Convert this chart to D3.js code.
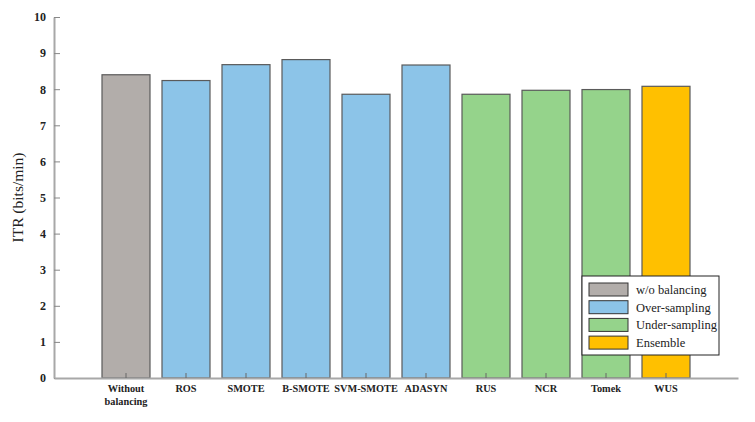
<!DOCTYPE html>
<html lang="en">
<head>
    <meta charset="UTF-8">
    <title>ITR by balancing method</title>
    <script src="https://d3js.org/d3.v7.min.js"></script>
    <style>
        body, html {
            margin: 0;
            padding: 0;
            background-color: #fff;
        }
        svg {
            display: block;
        }
        .tick text {
            font-family: 'Liberation Serif', 'DejaVu Serif', serif;
        }
    </style>
</head>
<body>
    <svg width="755" height="422"></svg>

    <script>
        // chart data
        const methods = ['Without balancing', 'ROS', 'SMOTE', 'B-SMOTE', 'SVM-SMOTE', 'ADASYN', 'RUS', 'NCR', 'Tomek', 'WUS'];
        const itrValues = [8.40, 8.24, 8.68, 8.82, 7.86, 8.67, 7.86, 7.97, 7.99, 8.08];
        const groups = ['w/o balancing', 'Over-sampling', 'Over-sampling', 'Over-sampling', 'Over-sampling', 'Over-sampling',
                        'Under-sampling', 'Under-sampling', 'Under-sampling', 'Ensemble'];
        const legendLabels = ['w/o balancing', 'Over-sampling', 'Under-sampling', 'Ensemble'];
        const groupColors = ['#b2adaa', '#8cc4e8', '#95d38b', '#ffc000'];
        const yTicks = [0, 1, 2, 3, 4, 5, 6, 7, 8, 9, 10];

        const serif = "'Liberation Serif', 'DejaVu Serif', serif";
        const svg = d3.select('svg');
        const margin = {left: 54, right: 17, top: 17, bottom: 44};
        const width = +svg.attr('width');
        const height = +svg.attr('height');

        const x = d3.scaleBand()
            .domain(methods)
            .range([margin.left, width - margin.right])
            .paddingInner(0.2)
            .paddingOuter(0.8);

        const y = d3.scaleLinear()
            .domain([0, 10])
            .range([height - margin.bottom, margin.top]);

        const color = d3.scaleOrdinal()
            .domain(legendLabels)
            .range(groupColors);

        const data = methods.map((m, i) => ({method: m, value: itrValues[i], group: groups[i]}));

        // bars
        svg.append('g')
            .selectAll('rect')
            .data(data)
            .join('rect')
            .attr('x', d => x(d.method))
            .attr('y', d => y(d.value))
            .attr('width', x.bandwidth())
            .attr('height', d => y(0) - y(d.value))
            .attr('fill', d => color(d.group))
            .attr('stroke', '#5a5a5a')
            .attr('stroke-width', 1.2);

        // y axis, ticks point inward
        const yAxis = svg.append('g')
            .attr('transform', `translate(${margin.left},0)`)
            .call(d3.axisLeft(y).tickValues(yTicks).tickSizeInner(-6).tickSizeOuter(0).tickPadding(8));
        yAxis.select('.domain').attr('stroke', '#a8a8a8').attr('stroke-width', 2);
        yAxis.selectAll('.tick line').attr('stroke', '#888');
        yAxis.selectAll('.tick text')
            .attr('font-size', 12)
            .attr('font-weight', 'bold')
            .attr('fill', '#222');

        // x axis
        const xAxis = svg.append('g')
            .attr('transform', `translate(0,${y(0)})`)
            .call(d3.axisBottom(x).tickSizeInner(-5).tickSizeOuter(0).tickPadding(7));
        xAxis.select('.domain').attr('stroke', '#a8a8a8').attr('stroke-width', 2);
        xAxis.selectAll('.tick line').attr('stroke', '#666');
        xAxis.selectAll('.tick text')
            .attr('font-size', 10.3)
            .attr('font-weight', 'bold')
            .attr('fill', '#222')
            .each(function(d) {
                // split the long label into two lines
                if (d === 'Without balancing') {
                    const t = d3.select(this).text(null);
                    t.append('tspan').attr('x', 0).attr('dy', '0.71em').text('Without');
                    t.append('tspan').attr('x', 0).attr('dy', '1.2em').text('balancing');
                }
            });

        // y label
        svg.append('text')
            .attr('transform', `translate(23,${(y(0) + y(10)) / 2}) rotate(-90)`)
            .attr('text-anchor', 'middle')
            .attr('font-family', serif)
            .attr('font-size', 15.5)
            .attr('fill', '#222')
            .text('ITR (bits/min)');

        // legend
        const legend = svg.append('g').attr('transform', 'translate(582,276)');
        legend.append('rect')
            .attr('width', 137)
            .attr('height', 79)
            .attr('fill', '#fff')
            .attr('stroke', '#222')
            .attr('stroke-width', 1);

        const items = legend.selectAll('g.item')
            .data(legendLabels)
            .join('g')
            .attr('class', 'item')
            .attr('transform', (d, i) => `translate(7,${7 + i * 17.7})`);
        items.append('rect')
            .attr('width', 39)
            .attr('height', 13)
            .attr('fill', d => color(d))
            .attr('stroke', '#333');
        items.append('text')
            .attr('x', 47)
            .attr('y', 6.5)
            .attr('dy', '0.35em')
            .style('font-family', serif)
            .attr('font-size', 12.5)
            .attr('fill', '#222')
            .text(d => d);
    </script>
</body>
</html>
